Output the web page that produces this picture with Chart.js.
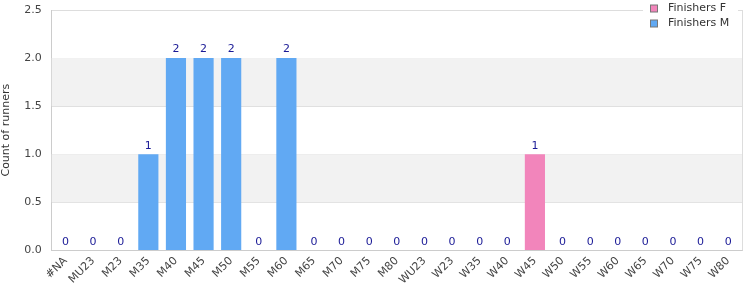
<!DOCTYPE html>
<html>
<head>
<meta charset="utf-8">
<script src="https://cdn.jsdelivr.net/npm/chart.js@4/dist/chart.umd.min.js"></script>
<style>
html,body{margin:0;padding:0;background:#fff;}
#wrap{width:750px;height:300px;}
</style>
</head>
<body>
<div id="wrap"><canvas id="c" width="750" height="300"></canvas></div>
<script>
const categories = ["#NA","MU23","M23","M35","M40","M45","M50","M55","M60","M65","M70","M75","M80","WU23","W23","W35","W40","W45","W50","W55","W60","W65","W70","W75","W80"];
const finishersF = [0,0,0,0,0,0,0,0,0,0,0,0,0,0,0,0,0,1,0,0,0,0,0,0,0];
const finishersM = [0,0,0,1,2,2,2,0,2,0,0,0,0,0,0,0,0,0,0,0,0,0,0,0,0];
const yTicks = [0,0.5,1.0,1.5,2.0,2.5];
const seriesLabels = ["Finishers F","Finishers M"];
const FONT = "'DejaVu Sans', sans-serif";

const bandsPlugin = {
  id: 'bands',
  beforeDatasetsDraw(chart) {
    const {ctx, chartArea, scales} = chart;
    const y = scales.y;
    ctx.save();
    ctx.fillStyle = '#f2f2f2';
    [[0.5,1.0],[1.5,2.0]].forEach(([a,b]) => {
      const y1 = y.getPixelForValue(b), y2 = y.getPixelForValue(a);
      ctx.fillRect(chartArea.left, y1, chartArea.right - chartArea.left, y2 - y1);
    });
    ctx.restore();
  }
};

const borderPlugin = {
  id: 'rborder',
  afterDatasetsDraw(chart) {
    const {ctx, chartArea} = chart;
    ctx.save();
    ctx.strokeStyle = '#dddddd';
    ctx.lineWidth = 1;
    ctx.beginPath();
    ctx.moveTo(Math.round(chartArea.right) + 0.5, chartArea.top);
    ctx.lineTo(Math.round(chartArea.right) + 0.5, chartArea.bottom);
    ctx.stroke();
    ctx.restore();
  }
};

const totalsPlugin = {
  id: 'totals',
  afterDatasetsDraw(chart) {
    const {ctx, scales} = chart;
    ctx.save();
    ctx.font = '11px ' + FONT;
    ctx.fillStyle = '#1a1a96';
    ctx.textAlign = 'center';
    ctx.textBaseline = 'bottom';
    categories.forEach((c, i) => {
      const total = finishersF[i] + finishersM[i];
      const x = scales.x.getPixelForValue(i);
      const y = scales.y.getPixelForValue(total);
      ctx.fillText(String(total), x, y - 3);
    });
    ctx.restore();
  }
};

const legendPlugin = {
  id: 'customLegend',
  afterDraw(chart) {
    const {ctx} = chart;
    ctx.save();
    ctx.fillStyle = '#ffffff';
    ctx.fillRect(643, 0, 95, 34);
    ctx.font = '11px ' + FONT;
    ctx.textBaseline = 'middle';
    ctx.textAlign = 'left';
    chart.data.datasets.forEach((ds, i) => {
      const yc = 8.5 + i * 15;
      ctx.fillStyle = ds.backgroundColor;
      ctx.fillRect(650.5, yc - 3.5, 7, 7);
      ctx.strokeStyle = '#777777';
      ctx.lineWidth = 1;
      ctx.strokeRect(650.5, yc - 3.5, 7, 7);
      ctx.fillStyle = '#333333';
      ctx.fillText(ds.label, 668, yc);
    });
    ctx.restore();
  }
};

new Chart(document.getElementById('c'), {
  type: 'bar',
  data: {
    labels: categories,
    datasets: [
      {label: seriesLabels[0], data: finishersF, backgroundColor: '#f285bb', borderWidth: 0},
      {label: seriesLabels[1], data: finishersM, backgroundColor: '#61a9f3', borderWidth: 0}
    ]
  },
  options: {
    responsive: false,
    animation: false,
    devicePixelRatio: 1,
    layout: {padding: {top: 10, right: 8, left: 0, bottom: 9}},
    datasets: {bar: {barPercentage: 0.73, categoryPercentage: 1.0}},
    plugins: {legend: {display: false}, tooltip: {enabled: false}},
    scales: {
      x: {
        stacked: true,
        grid: {display: false, drawTicks: false},
        border: {color: '#cccccc'},
        ticks: {
          color: '#444444', font: {family: FONT, size: 11},
          maxRotation: 45, minRotation: 45, autoSkip: false, padding: 4
        }
      },
      y: {
        stacked: true,
        min: 0, max: 2.5,
        afterBuildTicks(axis) { axis.ticks = yTicks.map(v => ({value: v})); },
        afterFit(axis) { axis.paddingTop = 0; axis.paddingBottom = 0; },
        grid: {color: '#dddddd', drawTicks: false},
        border: {color: '#cccccc'},
        title: {display: true, text: 'Count of runners', color: '#333333', font: {family: FONT, size: 11}, padding: {top: 0, bottom: 1}},
        ticks: {
          color: '#444444', font: {family: FONT, size: 11}, padding: 10,
          callback: (v) => Number(v).toFixed(1)
        }
      }
    }
  },
  plugins: [bandsPlugin, borderPlugin, totalsPlugin, legendPlugin]
});
</script>
</body>
</html>
